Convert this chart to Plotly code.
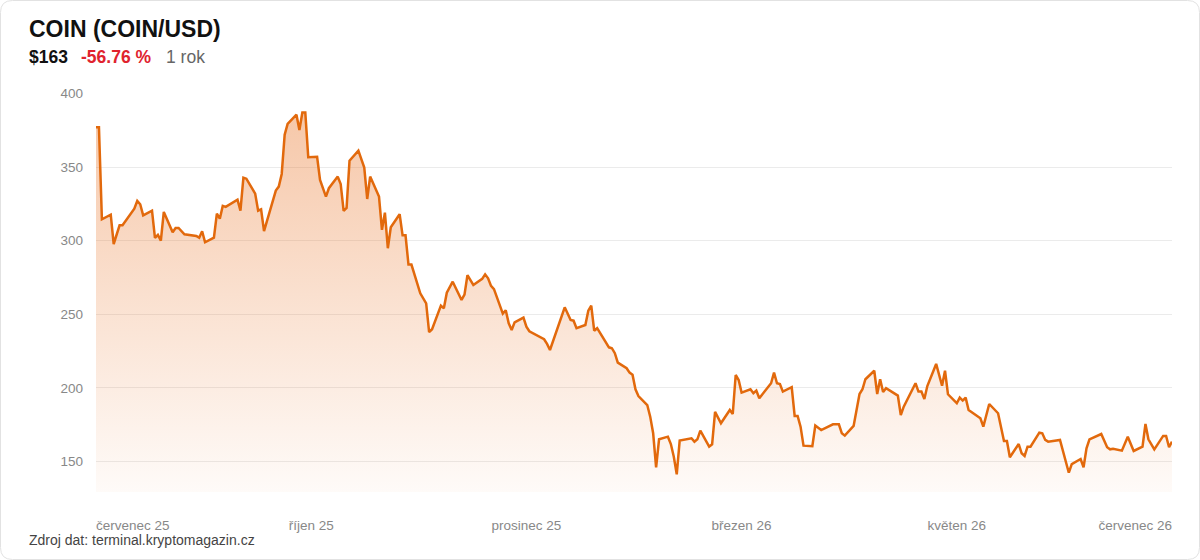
import plotly.graph_objects as go

# ---- data ----
days = [0, 1, 2, 5, 6, 8, 9, 13, 14, 15, 16, 19, 20, 21, 22, 23, 26, 27, 28, 30,
        34, 35, 36, 37, 40, 41, 42, 43, 44, 48, 49, 50, 51, 54, 55, 56, 57, 61, 62, 63,
        64, 65, 68, 69, 70, 71, 72, 75, 76, 78, 79, 82, 83, 84, 85, 86, 89, 91, 92, 93,
        96, 97, 98, 99, 100, 103, 104, 105, 106, 107, 110, 111, 112, 113, 114, 117, 118, 119, 121, 124,
        125, 126, 128, 131, 132, 133, 134, 135, 138, 139, 140, 141, 142, 145, 146, 147, 152, 153, 154, 159,
        161, 162, 163, 166, 167, 168, 169, 170, 174, 175, 176, 177, 180, 181, 182, 183, 184, 187, 188, 189,
        190, 191, 194, 195, 196, 197, 198, 202, 203, 204, 205, 208, 209, 210, 212, 215, 216, 217, 218, 219,
        222, 223, 224, 225, 229, 230, 231, 232, 233, 236, 237, 238, 239, 240, 243, 244, 246, 250, 252, 253,
        254, 257, 259, 260, 261, 264, 265, 266, 267, 268, 272, 273, 274, 278, 279, 280, 281, 282, 285, 287,
        288, 289, 292, 293, 294, 295, 296, 300, 301, 303, 306, 308, 309, 310, 313, 314, 315, 316, 317, 320,
        321, 322, 323, 327, 330, 331, 334, 335, 336, 337, 341, 343, 344, 345, 348, 350, 352, 355, 356, 357,
        359, 362, 363, 364, 365]
prices = [377.0, 377.0, 314.5, 317.6, 297.7, 310.4, 310.4, 321.7, 327.0, 324.7, 317.2, 320.4, 301.8, 303.9, 300.0, 319.5, 305.7, 308.6, 308.6, 304.3,
          303.2, 302.0, 306.4, 298.9, 302.0, 318.3, 314.9, 323.6, 322.9, 327.8, 320.4, 342.8, 342.1, 331.9, 320.4, 321.3, 306.4, 334.0, 336.7, 345.3,
          372.0, 379.3, 385.6, 375.2, 387.0, 387.0, 356.7, 357.0, 341.2, 329.9, 335.6, 343.5, 338.5, 320.2, 322.2, 354.3, 361.1, 349.6, 328.3, 343.5,
          329.9, 307.3, 319.0, 294.8, 309.1, 317.9, 303.6, 303.6, 283.7, 283.7, 264.2, 261.2, 257.4, 237.9, 239.8, 255.8, 254.0, 264.6, 272.1, 259.7,
          263.3, 276.5, 269.9, 274.0, 277.1, 274.4, 269.2, 267.0, 250.4, 252.7, 243.8, 239.3, 244.5, 247.7, 241.5, 238.4, 233.0, 229.8, 225.7, 254.7,
          246.1, 245.6, 240.5, 242.7, 252.4, 255.8, 238.8, 240.5, 227.5, 226.9, 223.5, 217.1, 213.3, 210.3, 208.9, 199.0, 194.4, 188.3, 180.4, 169.1,
          146.0, 165.0, 166.8, 161.8, 153.2, 141.2, 164.1, 165.7, 163.4, 165.0, 170.9, 160.0, 161.6, 183.6, 175.9, 184.9, 182.2, 208.7, 205.3, 196.7,
          199.0, 196.3, 198.1, 192.9, 203.1, 210.3, 203.1, 202.6, 197.4, 200.4, 180.9, 180.9, 173.6, 160.7, 160.3, 174.3, 171.3, 175.2, 175.2, 169.1,
          167.5, 174.1, 195.8, 199.0, 205.8, 211.6, 195.8, 205.8, 197.2, 199.7, 194.7, 181.5, 187.2, 203.1, 197.4, 197.4, 192.4, 201.2, 216.2, 201.4,
          211.6, 195.6, 189.5, 193.3, 191.3, 193.3, 184.9, 179.3, 173.6, 189.0, 182.7, 163.9, 163.9, 152.8, 161.8, 155.5, 153.7, 160.0, 160.0, 169.5,
          169.1, 164.6, 163.4, 164.6, 142.3, 148.2, 151.6, 146.0, 158.9, 165.0, 168.6, 159.6, 158.2, 158.6, 157.3, 166.8, 157.1, 160.0, 175.4, 165.0,
          158.2, 167.3, 167.3, 159.6, 163.4]

x_tick_vals = [12.5, 73, 146, 219, 292, 352.5]
x_tick_text = ["červenec 25", "říjen 25", "prosinec 25", "březen 26", "květen 26", "červenec 26"]
y_tick_vals = [150, 200, 250, 300, 350, 400]

title_text = "COIN (COIN/USD)"
price_text = "$163"
change_text = "-56.76 %"
period_text = "1 rok"
source_text = "Zdroj dat: terminal.kryptomagazin.cz"

# ---- layout constants ----
W, H = 1200, 560
ML, MR, MT, MB = 96, 28, 93, 68
PW, PH = W - ML - MR, H - MT - MB
FONT = "Liberation Sans, Arial, Helvetica, sans-serif"
LINE_COLOR = "#e2690c"

def px_x(px):
    return (px - ML) / PW

def px_y(py):
    return (H - MB - py) / PH

fig = go.Figure()
fig.add_trace(go.Scatter(
    x=days, y=prices, mode="lines",
    line=dict(color=LINE_COLOR, width=2.5),
    fill="tozeroy",
    fillgradient=dict(type="vertical",
                      colorscale=[[0, "rgba(232,110,30,0.03)"], [1, "rgba(232,110,30,0.40)"]],
                      start=129.2, stop=400),
    hoverinfo="skip", showlegend=False,
))

# rounded card border
x0, x1 = px_x(0.5), px_x(W - 0.5)
yt, yb = px_y(0.5), px_y(H - 0.5)
rx, ry = 12 / PW, 12 / PH
path = (f"M {x0+rx},{yt} L {x1-rx},{yt} Q {x1},{yt} {x1},{yt-ry} "
        f"L {x1},{yb+ry} Q {x1},{yb} {x1-rx},{yb} "
        f"L {x0+rx},{yb} Q {x0},{yb} {x0},{yb+ry} "
        f"L {x0},{yt-ry} Q {x0},{yt} {x0+rx},{yt} Z")
fig.add_shape(type="path", path=path, xref="paper", yref="paper",
              line=dict(color="#e2e2e2", width=1), layer="below")

ann = []
ann.append(dict(text=f"<b>{title_text}</b>", x=px_x(27), y=px_y(28.5), xanchor="left", yanchor="middle",
                font=dict(size=23, color="#111111", family=FONT)))
ann.append(dict(text=f"<b>{price_text}</b>", x=px_x(27), y=px_y(57), xanchor="left", yanchor="middle",
                font=dict(size=17.5, color="#111111", family=FONT)))
ann.append(dict(text=f"<b>{change_text}</b>", x=px_x(79), y=px_y(57), xanchor="left", yanchor="middle",
                font=dict(size=17.5, color="#e0232e", family=FONT)))
ann.append(dict(text=period_text, x=px_x(164), y=px_y(57), xanchor="left", yanchor="middle",
                font=dict(size=17.5, color="#666666", family=FONT)))
ann.append(dict(text=source_text, x=px_x(27), y=px_y(540), xanchor="left", yanchor="middle",
                font=dict(size=14, color="#444444", family=FONT)))
for a in ann:
    a.update(xref="paper", yref="paper", showarrow=False)

fig.update_layout(
    width=W, height=H,
    margin=dict(l=ML, r=MR, t=MT, b=MB, pad=0),
    paper_bgcolor="white", plot_bgcolor="white",
    font=dict(family=FONT),
    annotations=ann,
    xaxis=dict(range=[0, 365], showgrid=False, zeroline=False, showline=False,
               tickvals=x_tick_vals, ticktext=x_tick_text, ticks="",
               tickfont=dict(size=13.5, color="#888888", family=FONT),
               ticklabelstandoff=23, fixedrange=True),
    yaxis=dict(range=[129.2, 400.3], tickvals=y_tick_vals, showgrid=True,
               gridcolor="#ebebeb", gridwidth=1, zeroline=False, showline=False, ticks="",
               tickfont=dict(size=13.5, color="#888888", family=FONT),
               ticklabelstandoff=12, fixedrange=True),
)

fig.write_html("out.html", config={"displayModeBar": False, "staticPlot": True})
